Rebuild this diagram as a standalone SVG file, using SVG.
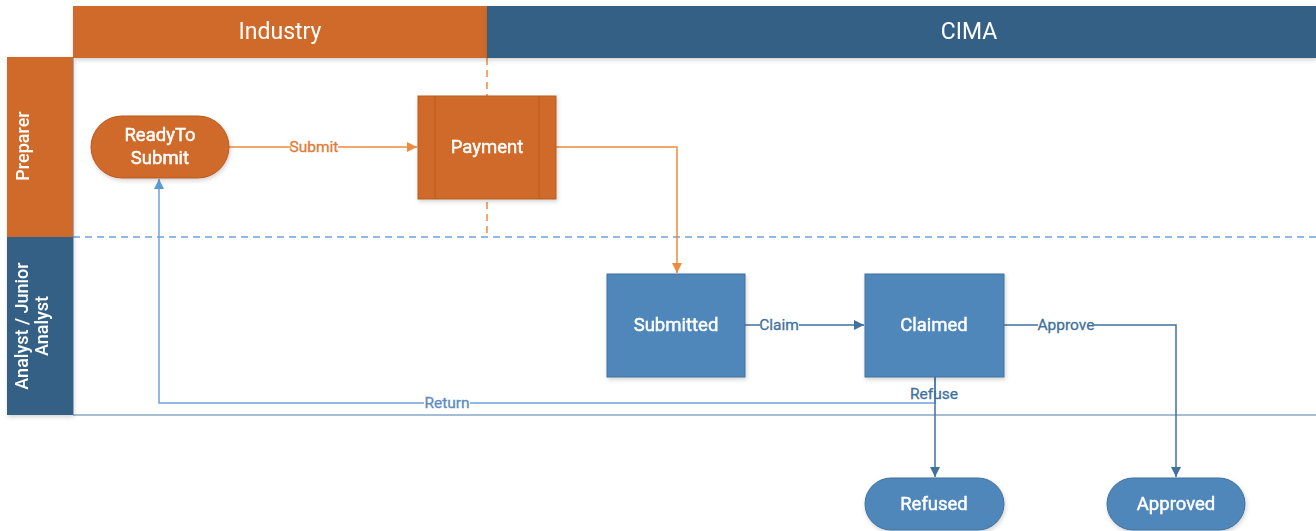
<svg xmlns="http://www.w3.org/2000/svg" width="1316" height="531" viewBox="0 0 1316 531">
<defs>
<style>
.hdr{font-family:Roboto,"Liberation Sans",sans-serif;font-size:23px;fill:#fff;text-anchor:middle}
.lane{font-family:Roboto,"Liberation Sans",sans-serif;font-size:18px;font-weight:500;fill:#fff;text-anchor:middle}
.nt{font-family:Roboto,"Liberation Sans",sans-serif;font-size:18.5px;fill:#fff;stroke:#fff;stroke-width:0.45;text-anchor:middle}
.lbl{font-family:Roboto,"Liberation Sans",sans-serif;font-size:15.5px;stroke-width:0.3;text-anchor:middle}
.or{fill:#d06b2a;stroke:#b85a1e;stroke-width:1}
.bl{fill:#4f87ba;stroke:#41719c;stroke-width:1}
.c-or{fill:none;stroke:#f08a3c;stroke-width:1.5}
.c-bl{fill:none;stroke:#41719c;stroke-width:1.5}
.c-lb{fill:none;stroke:#6fa3db;stroke-width:1.5}
</style>
<marker id="aO" viewBox="0 0 10 10" refX="10" refY="5" markerWidth="10" markerHeight="10" markerUnits="userSpaceOnUse" orient="auto"><path d="M0,0L10,5L0,10z" fill="#f08a3c"/></marker>
<marker id="aB" viewBox="0 0 10 10" refX="10" refY="5" markerWidth="10" markerHeight="10" markerUnits="userSpaceOnUse" orient="auto"><path d="M0,0L10,5L0,10z" fill="#41719c"/></marker>
<marker id="aL" viewBox="0 0 10 10" refX="10" refY="5" markerWidth="10" markerHeight="10" markerUnits="userSpaceOnUse" orient="auto"><path d="M0,0L10,5L0,10z" fill="#5b9bd5"/></marker>
<filter id="sh" x="-10%" y="-10%" width="130%" height="130%"><feDropShadow dx="1" dy="2" stdDeviation="2" flood-color="#000" flood-opacity="0.18"/></filter>
</defs>
<rect width="1316" height="531" fill="#fff"/>

<g id="pool">
<rect x="73" y="57" width="1243" height="358" fill="#fff"/>
<line x1="73" y1="415" x2="1316" y2="415" stroke="#4f7fab" stroke-width="1.2"/>
<line x1="73" y1="57" x2="73" y2="415" stroke="#4f7fab" stroke-width="1"/>
<line x1="73" y1="237" x2="1316" y2="237" stroke="#6fa3db" stroke-width="1.5" stroke-dasharray="7,5"/>
<line x1="487" y1="58" x2="487" y2="236" stroke="#f08a3c" stroke-width="1.5" stroke-dasharray="7,5"/>
</g>

<g id="hdr-industry" filter="url(#sh)">
<rect x="73" y="6" width="414" height="52" fill="#d06b2a"/>
<text class="hdr" x="280" y="39">Industry</text>
</g>
<g id="hdr-cima" filter="url(#sh)">
<rect x="487" y="6" width="829" height="52" fill="#366186"/>
<text class="hdr" x="969" y="39">CIMA</text>
</g>
<g id="lane-preparer" filter="url(#sh)">
<rect x="7" y="57" width="66" height="180" fill="#d06b2a"/>
<text class="lane" transform="translate(29,146) rotate(-90)">Preparer</text>
</g>
<g id="lane-analyst" filter="url(#sh)">
<rect x="7" y="237" width="66" height="178" fill="#366186"/>
<text class="lane" transform="translate(28,326) rotate(-90)">Analyst / Junior</text>
<text class="lane" transform="translate(48,326) rotate(-90)">Analyst</text>
</g>

<g id="connectors">
<path class="c-or" d="M229,147H417" marker-end="url(#aO)"/>
<rect x="291" y="139" width="47" height="16" fill="#fff"/>
<text class="lbl" x="314" y="152" fill="#e07a35" stroke="#e07a35">Submit</text>
<path class="c-or" d="M556,147H677V273" marker-end="url(#aO)"/>
<path class="c-bl" d="M745,325H864" marker-end="url(#aB)"/>
<rect x="760" y="317" width="39" height="16" fill="#fff"/>
<text class="lbl" x="779" y="330" fill="#41719c" stroke="#41719c">Claim</text>
<path class="c-bl" d="M1004,325H1176V477" marker-end="url(#aB)"/>
<rect x="1038" y="317" width="56" height="16" fill="#fff"/>
<text class="lbl" x="1066" y="330" fill="#41719c" stroke="#41719c">Approve</text>
<path class="c-lb" d="M935,377V403H159V179" marker-end="url(#aL)"/>
<rect x="424" y="395" width="46" height="16" fill="#fff"/>
<text class="lbl" x="447" y="408" fill="#5b8bc0" stroke="#5b8bc0">Return</text>
<path class="c-bl" d="M935,377V477" marker-end="url(#aB)"/>
<text class="lbl" x="934" y="399" fill="#41719c" stroke="#41719c">Refuse</text>
</g>

<g id="node-readytosubmit" filter="url(#sh)">
<rect class="or" x="91" y="116" width="138" height="62" rx="31"/>
<text class="nt" x="160" y="141">ReadyTo</text>
<text class="nt" x="160" y="164">Submit</text>
</g>
<g id="node-payment" filter="url(#sh)">
<rect class="or" x="418" y="96" width="138" height="103"/>
<line x1="435" y1="96" x2="435" y2="199" stroke="#b85a1e"/>
<line x1="539" y1="96" x2="539" y2="199" stroke="#b85a1e"/>
<text class="nt" x="487" y="153">Payment</text>
</g>
<g id="node-submitted" filter="url(#sh)">
<rect class="bl" x="607" y="274" width="138" height="103"/>
<text class="nt" x="676" y="331">Submitted</text>
</g>
<g id="node-claimed" filter="url(#sh)">
<rect class="bl" x="865" y="274" width="139" height="103"/>
<text class="nt" x="934" y="331">Claimed</text>
</g>
<g id="node-refused" filter="url(#sh)">
<rect class="bl" x="865" y="478" width="139" height="52" rx="26"/>
<text class="nt" x="934" y="510">Refused</text>
</g>
<g id="node-approved" filter="url(#sh)">
<rect class="bl" x="1107" y="478" width="138" height="52" rx="26"/>
<text class="nt" x="1176" y="510">Approved</text>
</g>
</svg>
